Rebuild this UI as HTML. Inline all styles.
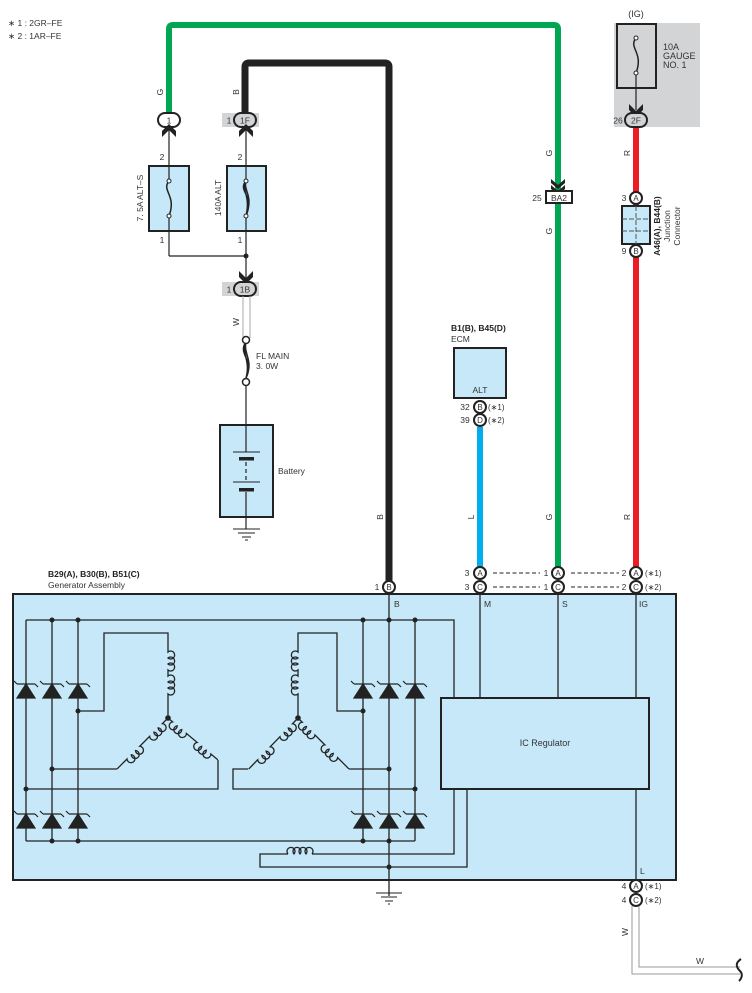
<!DOCTYPE html>
<html><head><meta charset="utf-8">
<style>
html,body{margin:0;padding:0;background:#fff;}
svg{display:block;}
text{font-family:"Liberation Sans",sans-serif;fill:#333;}
</style></head>
<body>
<svg width="752" height="993" viewBox="0 0 752 993" xmlns="http://www.w3.org/2000/svg">
<text x="8" y="26" font-size="8.5">∗ 1 : 2GR–FE</text>
<text x="8" y="39" font-size="8.5">∗ 2 : 1AR–FE</text>

<rect x="614" y="23" width="86" height="104" fill="#d3d4d6"/>
<text x="636" y="17" font-size="9" text-anchor="middle">(IG)</text>
<rect x="617" y="24" width="39" height="64" fill="none" stroke="#222" stroke-width="2"/>
<path d="M636,38 c-8,10 8,14 0,35" fill="none" stroke="#222" stroke-width="1.5"/>
<circle cx="636" cy="38" r="2" fill="#fff" stroke="#222"/>
<circle cx="636" cy="73" r="2" fill="#fff" stroke="#222"/>
<line x1="636" y1="75" x2="636" y2="110" stroke="#222" stroke-width="1.2"/>
<path d="M629,104 l7,7 l7,-7 v6 l-7,7 l-7,-7z" fill="#222"/>
<text x="663" y="50" font-size="9">10A</text>
<text x="663" y="59" font-size="9">GAUGE</text>
<text x="663" y="68" font-size="9">NO. 1</text>

<rect x="222" y="113" width="37" height="14" fill="#d3d4d6"/>
<rect x="222" y="282" width="37" height="14" fill="#d3d4d6"/>

<path d="M169,118 V29 Q169,25 173,25 H554 Q558,25 558,29 V568" fill="none" stroke="#00a651" stroke-width="6"/>
<path d="M245,116 V67 Q245,63 249,63 H385 Q389,63 389,67 V582" fill="none" stroke="#222" stroke-width="7"/>
<line x1="636" y1="127" x2="636" y2="568" stroke="#ed1c24" stroke-width="6"/>
<line x1="480" y1="427" x2="480" y2="568" stroke="#00aeef" stroke-width="6"/>

<g font-size="8.5">
<text transform="translate(163,92) rotate(-90)" text-anchor="middle">G</text>
<text transform="translate(239,92) rotate(-90)" text-anchor="middle">B</text>
<text transform="translate(552,153) rotate(-90)" text-anchor="middle">G</text>
<text transform="translate(552,231) rotate(-90)" text-anchor="middle">G</text>
<text transform="translate(552,517) rotate(-90)" text-anchor="middle">G</text>
<text transform="translate(630,153) rotate(-90)" text-anchor="middle">R</text>
<text transform="translate(630,517) rotate(-90)" text-anchor="middle">R</text>
<text transform="translate(474,517) rotate(-90)" text-anchor="middle">L</text>
<text transform="translate(383,517) rotate(-90)" text-anchor="middle">B</text>
<text transform="translate(239,322) rotate(-90)" text-anchor="middle">W</text>
<text transform="translate(628,932) rotate(-90)" text-anchor="middle">W</text>
<text x="700" y="964" text-anchor="middle">W</text>
</g>

<rect x="158" y="113" width="22" height="14" rx="7" fill="#fff" stroke="#222" stroke-width="2"/>
<text x="169" y="123.5" font-size="8.5" text-anchor="middle">1</text>
<rect x="234" y="113" width="22" height="14" rx="7" fill="#d3d4d6" stroke="#222" stroke-width="2"/>
<text x="245" y="123.5" font-size="8.5" text-anchor="middle">1F</text>
<text x="229" y="123.5" font-size="8.5" text-anchor="middle">1</text>
<rect x="625" y="113" width="22" height="14" rx="7" fill="#d3d4d6" stroke="#222" stroke-width="2"/>
<text x="636" y="123.5" font-size="8.5" text-anchor="middle">2F</text>
<text x="618" y="123.5" font-size="8.5" text-anchor="middle">26</text>

<path d="M162,137 l7,-7 l7,7 v-6 l-7,-7 l-7,7z" fill="#222"/>
<path d="M239,137 l7,-7 l7,7 v-6 l-7,-7 l-7,7z" fill="#222"/>
<line x1="169" y1="130" x2="169" y2="166" stroke="#222" stroke-width="1.2"/>
<line x1="246" y1="130" x2="246" y2="166" stroke="#222" stroke-width="1.2"/>

<rect x="149" y="166" width="40" height="65" fill="#c6e8f8" stroke="#222" stroke-width="2"/>
<rect x="227" y="166" width="39" height="65" fill="#c6e8f8" stroke="#222" stroke-width="2"/>
<line x1="169" y1="166" x2="169" y2="181" stroke="#222" stroke-width="1.2"/>
<line x1="169" y1="216" x2="169" y2="256" stroke="#222" stroke-width="1.2"/>
<path d="M169,181 c-8,10 8,14 0,35" fill="none" stroke="#222" stroke-width="1.5"/>
<circle cx="169" cy="181" r="2" fill="#fff" stroke="#222"/>
<circle cx="169" cy="216" r="2" fill="#fff" stroke="#222"/>
<line x1="246" y1="166" x2="246" y2="181" stroke="#222" stroke-width="1.2"/>
<line x1="246" y1="216" x2="246" y2="282" stroke="#222" stroke-width="1.2"/>
<path d="M246,181 c-9,10 9,14 0,35 M246,181 c-5,10 5,14 0,35 M246,181 c-3,10 8,14 0,35" fill="none" stroke="#222" stroke-width="1.5"/>
<circle cx="246" cy="181" r="2" fill="#fff" stroke="#222"/>
<circle cx="246" cy="216" r="2" fill="#fff" stroke="#222"/>
<g font-size="8.5">
<text x="162" y="160" text-anchor="middle">2</text>
<text x="240" y="160" text-anchor="middle">2</text>
<text x="162" y="243" text-anchor="middle">1</text>
<text x="240" y="243" text-anchor="middle">1</text>
<text transform="translate(143,198) rotate(-90)" text-anchor="middle">7. 5A ALT–S</text>
<text transform="translate(221,198) rotate(-90)" text-anchor="middle">140A ALT</text>
</g>
<path d="M169,256 H246" stroke="#222" stroke-width="1.2" fill="none"/>
<circle cx="246" cy="256" r="2.5" fill="#222"/>
<path d="M239,271 l7,7 l7,-7 v6 l-7,7 l-7,-7z" fill="#222"/>
<rect x="234" y="282" width="22" height="14" rx="7" fill="#d3d4d6" stroke="#222" stroke-width="2"/>
<text x="245" y="292.5" font-size="8.5" text-anchor="middle">1B</text>
<text x="229" y="292.5" font-size="8.5" text-anchor="middle">1</text>

<line x1="243" y1="296" x2="243" y2="338" stroke="#aaa" stroke-width="1"/>
<line x1="250" y1="296" x2="250" y2="338" stroke="#aaa" stroke-width="1"/>
<path d="M246,342 c-9,12 9,18 0,36 M246,342 c-5,12 5,18 0,36 M246,342 c-3,12 8,18 0,36" fill="none" stroke="#222" stroke-width="1.5"/>
<circle cx="246" cy="340" r="3.5" fill="#fff" stroke="#222" stroke-width="1.5"/>
<circle cx="246" cy="382" r="3.5" fill="#fff" stroke="#222" stroke-width="1.5"/>
<text x="256" y="359" font-size="8.5">FL MAIN</text>
<text x="256" y="369" font-size="8.5">3. 0W</text>
<line x1="246" y1="386" x2="246" y2="425" stroke="#222" stroke-width="1.2"/>
<rect x="220" y="425" width="53" height="92" fill="#c6e8f8" stroke="#222" stroke-width="2"/>
<line x1="246" y1="425" x2="246" y2="452" stroke="#222" stroke-width="1.2"/>
<line x1="233" y1="452" x2="260" y2="452" stroke="#222" stroke-width="1"/>
<rect x="239" y="457" width="15" height="3.5" fill="#222"/>
<line x1="246" y1="462" x2="246" y2="481" stroke="#222" stroke-width="1.2" stroke-dasharray="4,3"/>
<line x1="233" y1="482" x2="260" y2="482" stroke="#222" stroke-width="1"/>
<rect x="239" y="488" width="15" height="3.5" fill="#222"/>
<line x1="246" y1="492" x2="246" y2="529" stroke="#222" stroke-width="1.2"/>
<text x="278" y="474" font-size="8.5">Battery</text>
<path d="M233,529 H260 M238,533 H255 M242,537 H251 M245,540 H248" stroke="#222" stroke-width="1"/>

<path d="M551,179 l7,6 l7,-6 v4 l-7,6 l-7,-6z M551,185 l7,6 l7,-6 v4 l-7,6 l-7,-6z" fill="#222"/>
<rect x="546" y="191" width="26" height="12" fill="#fff" stroke="#222" stroke-width="2"/>
<text x="559" y="201" font-size="8.5" text-anchor="middle">BA2</text>
<text x="537" y="201" font-size="8.5" text-anchor="middle">25</text>

<circle cx="636" cy="198" r="6" fill="#fff" stroke="#222" stroke-width="2"/>
<text x="636" y="201" font-size="8" text-anchor="middle">A</text>
<text x="624" y="201" font-size="8.5" text-anchor="middle">3</text>
<rect x="622" y="206" width="28" height="38" fill="#c6e8f8" stroke="#222" stroke-width="2"/>
<path d="M636,206 V244 M622,219 H650 M622,231 H650" stroke="#555" stroke-width="1" stroke-dasharray="5,2"/>
<circle cx="636" cy="251" r="6" fill="#fff" stroke="#222" stroke-width="2"/>
<text x="636" y="254" font-size="8" text-anchor="middle">B</text>
<text x="624" y="254" font-size="8.5" text-anchor="middle">9</text>
<text transform="translate(660,226) rotate(-90)" text-anchor="middle" font-size="8.5" font-weight="bold" style="fill:#222">A46(A), B44(B)</text>
<text transform="translate(670,226) rotate(-90)" text-anchor="middle" font-size="8.5">Junction</text>
<text transform="translate(680,226) rotate(-90)" text-anchor="middle" font-size="8.5">Connector</text>

<text x="451" y="331" font-size="8.5" font-weight="bold" style="fill:#222">B1(B), B45(D)</text>
<text x="451" y="342" font-size="8.5">ECM</text>
<rect x="454" y="348" width="52" height="50" fill="#c6e8f8" stroke="#222" stroke-width="2"/>
<text x="480" y="393" font-size="8.5" text-anchor="middle">ALT</text>
<g font-size="8">
<circle cx="480" cy="407" r="6" fill="#fff" stroke="#222" stroke-width="2"/>
<text x="480" y="410" text-anchor="middle">B</text>
<circle cx="480" cy="420" r="6" fill="#fff" stroke="#222" stroke-width="2"/>
<text x="480" y="423" text-anchor="middle">D</text>
<text x="465" y="410" text-anchor="middle" font-size="8.5">32</text>
<text x="465" y="423" text-anchor="middle" font-size="8.5">39</text>
<text x="488" y="410">(∗1)</text>
<text x="488" y="423">(∗2)</text>
</g>

<g font-size="8">
<circle cx="480" cy="573" r="6" fill="#fff" stroke="#222" stroke-width="2"/><text x="480" y="576" text-anchor="middle">A</text>
<circle cx="480" cy="587" r="6" fill="#fff" stroke="#222" stroke-width="2"/><text x="480" y="590" text-anchor="middle">C</text>
<circle cx="558" cy="573" r="6" fill="#fff" stroke="#222" stroke-width="2"/><text x="558" y="576" text-anchor="middle">A</text>
<circle cx="558" cy="587" r="6" fill="#fff" stroke="#222" stroke-width="2"/><text x="558" y="590" text-anchor="middle">C</text>
<circle cx="636" cy="573" r="6" fill="#fff" stroke="#222" stroke-width="2"/><text x="636" y="576" text-anchor="middle">A</text>
<circle cx="636" cy="587" r="6" fill="#fff" stroke="#222" stroke-width="2"/><text x="636" y="590" text-anchor="middle">C</text>
<circle cx="389" cy="587" r="6" fill="#fff" stroke="#222" stroke-width="2"/><text x="389" y="590" text-anchor="middle">B</text>
<g font-size="8.5">
<text x="467" y="576" text-anchor="middle">3</text><text x="467" y="590" text-anchor="middle">3</text>
<text x="546" y="576" text-anchor="middle">1</text><text x="546" y="590" text-anchor="middle">1</text>
<text x="624" y="576" text-anchor="middle">2</text><text x="624" y="590" text-anchor="middle">2</text>
<text x="377" y="590" text-anchor="middle">1</text>
</g>
<text x="645" y="576">(∗1)</text>
<text x="645" y="590">(∗2)</text>
</g>
<path d="M493,573 H540 M493,587 H540 M571,573 H619 M571,587 H619" stroke="#222" stroke-width="1" stroke-dasharray="4,2.5"/>

<text x="48" y="577" font-size="8.5" font-weight="bold" style="fill:#222">B29(A), B30(B), B51(C)</text>
<text x="48" y="588" font-size="8.5">Generator Assembly</text>
<rect x="13" y="594" width="663" height="286" fill="#c6e8f8" stroke="#222" stroke-width="2"/>
<g font-size="8.5">
<text x="394" y="607">B</text><text x="484" y="607">M</text><text x="562" y="607">S</text><text x="639" y="607">IG</text><text x="640" y="874">L</text>
</g>
<g stroke="#222" stroke-width="1.3" fill="none">
<line x1="389" y1="593" x2="389" y2="896"/>
<line x1="480" y1="593" x2="480" y2="698"/>
<line x1="558" y1="593" x2="558" y2="698"/>
<line x1="636" y1="593" x2="636" y2="698"/>
<line x1="636" y1="789" x2="636" y2="880"/>
<path d="M26,620 H454 V698"/>
<path d="M26,841 H415"/>
<line x1="26" y1="620" x2="26" y2="841"/>
<line x1="52" y1="620" x2="52" y2="841"/>
<line x1="78" y1="620" x2="78" y2="841"/>
<line x1="363" y1="620" x2="363" y2="841"/>
<line x1="415" y1="620" x2="415" y2="841"/>
<path d="M78,711 H104 V633 H168 V648"/>
<path d="M52,769 H117"/>
<path d="M218,760 V789 H26"/>
<path d="M363,711 H337 V633 H298 V648"/>
<path d="M389,769 H349"/>
<path d="M248,769 H233 V789 H415"/>
<path d="M454,789 V854 H312"/>
<path d="M288,854 H260 V867 H467 V789"/>
<path d="M288,854 a4,4 0 1 1 6,0 a4,4 0 1 1 6,0 a4,4 0 1 1 6,0 a4,4 0 1 1 6,0"/>
<!-- left star coils -->
<path d="M168,648 v4 a4,4 0 1 1 0,6 a4,4 0 1 1 0,6 a4,4 0 1 1 0,6 v6 a4,4 0 1 1 0,6 a4,4 0 1 1 0,6 a4,4 0 1 1 0,6 v24"/>
<g transform="translate(168,718) rotate(135)">
<path d="M0,0 h8 a4,4 0 1 1 6,0 a4,4 0 1 1 6,0 a4,4 0 1 1 6,0 h14 a4,4 0 1 1 6,0 a4,4 0 1 1 6,0 a4,4 0 1 1 6,0 h14"/>
</g>
<g transform="translate(168,718) rotate(40)">
<path d="M0,0 h6 a4,4 0 1 0 6,0 a4,4 0 1 0 6,0 a4,4 0 1 0 6,0 h14 a4,4 0 1 0 6,0 a4,4 0 1 0 6,0 a4,4 0 1 0 6,0 h9"/>
</g>
<!-- right star coils -->
<path d="M298,648 v4 a4,4 0 1 0 0,6 a4,4 0 1 0 0,6 a4,4 0 1 0 0,6 v6 a4,4 0 1 0 0,6 a4,4 0 1 0 0,6 a4,4 0 1 0 0,6 v24"/>
<g transform="translate(298,718) rotate(134)">
<path d="M0,0 h8 a4,4 0 1 1 6,0 a4,4 0 1 1 6,0 a4,4 0 1 1 6,0 h14 a4,4 0 1 1 6,0 a4,4 0 1 1 6,0 a4,4 0 1 1 6,0 h13"/>
</g>
<g transform="translate(298,718) rotate(45)">
<path d="M0,0 h6 a4,4 0 1 0 6,0 a4,4 0 1 0 6,0 a4,4 0 1 0 6,0 h14 a4,4 0 1 0 6,0 a4,4 0 1 0 6,0 a4,4 0 1 0 6,0 h16"/>
</g>
</g>
<g fill="#222">
<circle cx="168" cy="718" r="2.8"/><circle cx="298" cy="718" r="2.8"/>
<circle cx="52" cy="620" r="2.5"/><circle cx="78" cy="620" r="2.5"/>
<circle cx="363" cy="620" r="2.5"/><circle cx="389" cy="620" r="2.5"/><circle cx="415" cy="620" r="2.5"/>
<circle cx="52" cy="841" r="2.5"/><circle cx="78" cy="841" r="2.5"/>
<circle cx="363" cy="841" r="2.5"/><circle cx="389" cy="841" r="2.5"/>
<circle cx="78" cy="711" r="2.5"/><circle cx="52" cy="769" r="2.5"/><circle cx="26" cy="789" r="2.5"/>
<circle cx="363" cy="711" r="2.5"/><circle cx="389" cy="769" r="2.5"/><circle cx="415" cy="789" r="2.5"/>
<circle cx="389" cy="867" r="2.5"/>
</g>
<g fill="#222" stroke="#222" stroke-width="1.2">
<path d="M17,698 L26,684 L35,698z M17,684 H35 M17,684 l-3,-3 M35,684 l3,3"/>
<path d="M43,698 L52,684 L61,698z M43,684 H61 M43,684 l-3,-3 M61,684 l3,3"/>
<path d="M69,698 L78,684 L87,698z M69,684 H87 M69,684 l-3,-3 M87,684 l3,3"/>
<path d="M354,698 L363,684 L372,698z M354,684 H372 M354,684 l-3,-3 M372,684 l3,3"/>
<path d="M380,698 L389,684 L398,698z M380,684 H398 M380,684 l-3,-3 M398,684 l3,3"/>
<path d="M406,698 L415,684 L424,698z M406,684 H424 M406,684 l-3,-3 M424,684 l3,3"/>
<path d="M17,828 L26,814 L35,828z M17,814 H35 M17,814 l-3,-3 M35,814 l3,3"/>
<path d="M43,828 L52,814 L61,828z M43,814 H61 M43,814 l-3,-3 M61,814 l3,3"/>
<path d="M69,828 L78,814 L87,828z M69,814 H87 M69,814 l-3,-3 M87,814 l3,3"/>
<path d="M354,828 L363,814 L372,828z M354,814 H372 M354,814 l-3,-3 M372,814 l3,3"/>
<path d="M380,828 L389,814 L398,828z M380,814 H398 M380,814 l-3,-3 M398,814 l3,3"/>
<path d="M406,828 L415,814 L424,828z M406,814 H424 M406,814 l-3,-3 M424,814 l3,3"/>
</g>
<rect x="441" y="698" width="208" height="91" fill="#c6e8f8" stroke="#222" stroke-width="2"/>
<text x="545" y="746" font-size="9" text-anchor="middle">IC Regulator</text>
<path d="M376,893 H402 M381,897 H397 M385,901 H393 M388,904 H390" stroke="#222" stroke-width="1"/>

<g font-size="8">
<circle cx="636" cy="886" r="6" fill="#fff" stroke="#222" stroke-width="2"/><text x="636" y="889" text-anchor="middle">A</text>
<circle cx="636" cy="900" r="6" fill="#fff" stroke="#222" stroke-width="2"/><text x="636" y="903" text-anchor="middle">C</text>
<text x="624" y="889" text-anchor="middle" font-size="8.5">4</text>
<text x="624" y="903" text-anchor="middle" font-size="8.5">4</text>
<text x="645" y="889">(∗1)</text>
<text x="645" y="903">(∗2)</text>
</g>
<path d="M632,906 V974 H740 M639,906 V967 H740" stroke="#999" stroke-width="1" fill="none"/>
<path d="M741,959 c-6,4 -5,8 -1,12 c3,3 2,7 -1,10" stroke="#222" stroke-width="2" fill="none"/>
</svg>
</body></html>
